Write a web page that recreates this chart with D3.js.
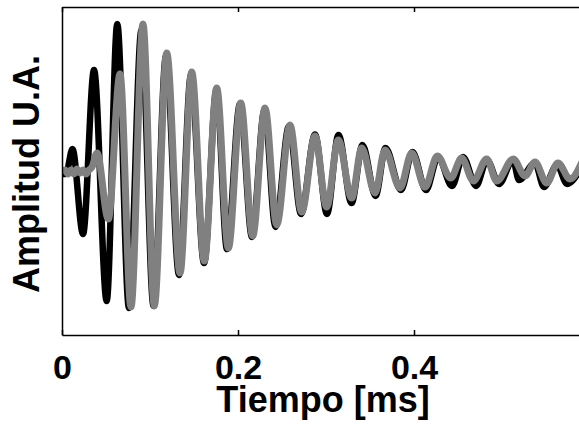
<!DOCTYPE html>
<html>
<head>
<meta charset="utf-8">
<script src="https://cdn.jsdelivr.net/npm/d3@7"></script>
<style>
  body { margin: 0; background: #fff; }
  svg { display: block; font-family: "Liberation Sans", Arial, sans-serif; font-weight: bold; }
</style>
</head>
<body>
<div class="canvas"></div>
<script>
// tick labels on the time axis (ms)
const xTicks = [0, 0.2, 0.4];

const grayTime = [0, .0034, .0068, .0102, .0136, .0170, .0205, .0239, .0273, .0307, .0341,
  .0398, .0526, .0659, .0784, .0920, .1049, .1190, .1341, .1474, .1617, .1758, .1890,
  .2031, .2167, .2307, .2440, .2591, .2724, .2875, .3008, .3140, .3292, .3406, .3557,
  .3670, .3841, .3974, .4125, .4265, .4417, .4542, .4674, .4826, .4940, .5128, .5261,
  .5375, .5508, .5636, .5773, .5909];
const grayAmp = [-.012, .006, -.018, .006, -.018, .012, -.012, .006, -.018, .006, .024,
  .110, -.293, .591, -.829, .896, -.823, .720, -.622, .604, -.549, .506, -.470,
  .415, -.396, .384, -.329, .280, -.250, .213, -.220, .189, -.165, .140, -.134,
  .128, -.104, .110, -.098, .091, -.043, .079, -.061, .073, -.061, .073, -.030,
  .055, -.073, .049, -.049, .055];

// black trace
const blackTime = [0, .0045, .0119, .0239, .0364, .0508, .0628, .0761, .0903, .1040,
  .1182, .1330, .1466, .1614, .1756, .1875, .2023, .2159, .2301, .2426, .2580, .2716,
  .2875, .3011, .3142, .3290, .3415, .3563, .3676, .3852, .3983, .4136, .4273, .4432,
  .4557, .4705, .4830, .4966, .5125, .5193, .5375, .5477, .5625, .5739, .5909];
const blackAmp = [-.018, -.018, .134, -.384, .616, -.793, .896, -.835, .860, -.823,
  .701, -.634, .585, -.561, .494, -.476, .409, -.402, .372, -.341, .274, -.262,
  .222, -.262, .220, -.195, .159, -.152, .140, -.116, .116, -.116, .085, -.091,
  .085, -.091, .067, -.079, .067, -.055, .049, -.098, .037, -.079, .030];

const width = 579, height = 427;
const margin = {top: 7, left: 62, bottom: 92};

const svg = d3.select('.canvas')
  .append('svg')
  .attr('width', width)
  .attr('height', height);

const x = d3.scaleLinear()
  .domain([0, 0.6])
  .range([margin.left, margin.left + 528]);

const y = d3.scaleLinear()
  .domain([-1, 1])
  .range([height - margin.bottom, margin.top]);

svg.append('clipPath').attr('id', 'plot')
  .append('rect')
  .attr('x', margin.left).attr('y', margin.top)
  .attr('width', width - margin.left)
  .attr('height', y(-1) - margin.top);

const line = d3.line()
  .x(d => x(d[0]))
  .y(d => y(d[1]))
  .curve(d3.curveMonotoneX);

const black = blackTime.map((t, i) => [t, blackAmp[i]]);
const gray = grayTime.map((t, i) => [t, grayAmp[i]]);

const traces = svg.append('g').attr('clip-path', 'url(#plot)');

traces.append('path')
  .datum(black)
  .attr('d', line)
  .attr('fill', 'none')
  .attr('stroke', '#000')
  .attr('stroke-width', 6.5)
  .attr('stroke-linejoin', 'round');

traces.append('path')
  .datum(gray)
  .attr('d', line)
  .attr('fill', 'none')
  .attr('stroke', '#808080')
  .attr('stroke-width', 7)
  .attr('stroke-linejoin', 'round');

// axes, ticks pointing inwards like matlab
const xAxis = d3.axisBottom(x)
  .tickValues(xTicks)
  .tickFormat(d3.format('~g'))
  .tickSizeInner(-5)
  .tickSizeOuter(0)
  .tickPadding(20);

const xAxisTop = d3.axisTop(x)
  .tickValues(xTicks)
  .tickFormat('')
  .tickSizeInner(-5)
  .tickSizeOuter(0);

const yAxis = d3.axisLeft(y)
  .tickValues([])
  .tickSizeOuter(0);

const gx = svg.append('g')
  .attr('transform', `translate(0, ${y(-1)})`)
  .call(xAxis);
gx.selectAll('text')
  .attr('font-size', 34)
  .attr('font-family', '"Liberation Sans", Arial, sans-serif')
  .attr('font-weight', 'bold')
  .attr('fill', '#000');

const gxt = svg.append('g')
  .attr('transform', `translate(0, ${margin.top})`)
  .call(xAxisTop);

const gy = svg.append('g')
  .attr('transform', `translate(${margin.left}, 0)`)
  .call(yAxis);

svg.selectAll('.domain, .tick line')
  .attr('stroke', '#000')
  .attr('stroke-width', 1.5);

// axis titles
svg.append('text')
  .attr('x', 323)
  .attr('y', 412)
  .attr('text-anchor', 'middle')
  .attr('font-size', 36)
  .text('Tiempo [ms]');

svg.append('text')
  .attr('transform', `translate(39, ${y(0) + 3}) rotate(-90)`)
  .attr('text-anchor', 'middle')
  .attr('font-size', 36)
  .text('Amplitud U.A.');
</script>
</body>
</html>
